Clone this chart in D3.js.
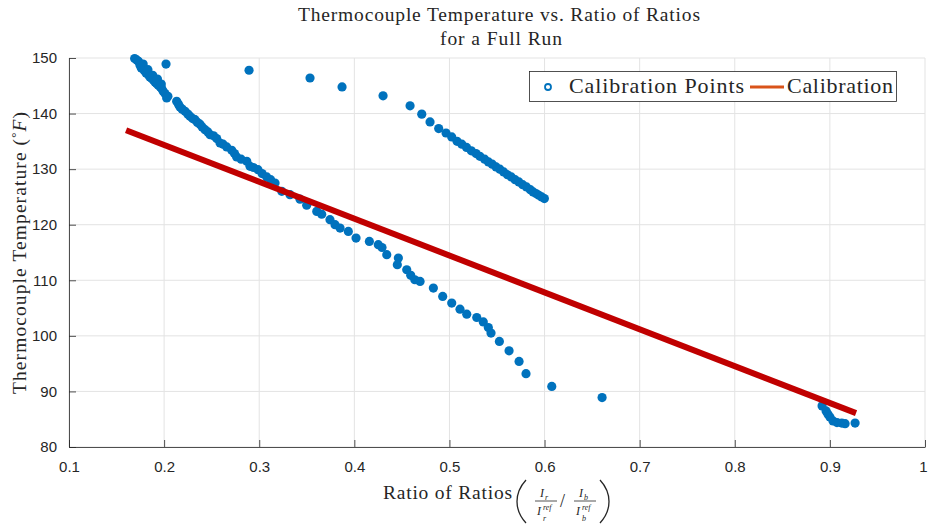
<!DOCTYPE html>
<html><head><meta charset="utf-8">
<script src="https://cdn.jsdelivr.net/npm/d3@7"></script>
<style>body{margin:0;background:#fff}text{font-family:"Liberation Serif","DejaVu Serif",serif;fill:#262626}</style>
</head><body>
<svg id="c" width="928" height="525"></svg>
<script>
const xTicks = [0.1,0.2,0.3,0.4,0.5,0.6,0.7,0.8,0.9,1];
const xTickLabels = ["0.1","0.2","0.3","0.4","0.5","0.6","0.7","0.8","0.9","1"];
const yTicks = [80,90,100,110,120,130,140,150];
const yTickLabels = ["80","90","100","110","120","130","140","150"];

// Calibration points – lower branch
const lowerX = [0.169,0.1715,0.173,0.1747,0.176,0.178,0.1789,0.181,0.1834,0.183,0.185,0.187,0.188,0.189,0.1904,0.192,0.193,0.1939,0.196,0.1975,0.197,0.199,0.2009,0.2027,0.204,
  0.2132,0.215,0.2167,0.219,0.222,0.225,0.2272,0.23,0.2325,0.235,0.2377,0.24,0.243,0.246,0.2483,0.252,0.2553,0.2588,0.262,0.2658,
  0.2711,0.274,0.2763,0.281,0.2869,0.2903,0.294,0.2987,0.303,0.3079,0.312,0.3166,0.3237,0.3324,0.3429,0.3499,0.3605,0.3657,0.3744,0.3797,0.385,
  0.3937,0.4018,0.4158,0.4252,0.4291,0.4341,0.4463,0.4452,0.4551,0.4593,0.4636,0.4691,0.4831,0.4929,0.5024,0.5111,0.5182,0.5287,0.5356,0.5409,
  0.5437,0.5525,0.5627,0.5732,0.5805,0.6076,0.6605];
const lowerY = [149.9,149.6,149.4,148.7,148.2,148.9,147.8,147.3,147.0,147.9,146.6,146.3,146.9,146.0,145.7,145.4,146.2,145.1,144.8,144.5,145.3,144.0,143.6,142.8,143.1,
  142.2,141.7,141.2,140.8,140.4,139.9,139.5,139.1,138.9,138.4,138.1,137.6,137.1,136.7,136.2,136.0,135.5,134.7,134.5,134.0,
  133.4,132.8,132.2,131.8,131.4,130.5,130.3,129.9,129.2,128.6,128.1,127.5,126.0,125.4,124.6,123.5,122.4,121.9,120.9,120.0,119.4,
  118.8,117.6,117.0,116.4,115.9,114.6,114.0,112.8,111.9,110.9,110.1,109.8,108.6,107.1,105.9,104.8,103.9,103.3,102.5,101.5,
  100.5,99.0,97.3,95.4,93.2,90.9,88.9];

// Calibration points – upper branch
const upperX = [0.202,0.2893,0.3534,0.3871,0.4302,0.4586,0.4709,0.4796,0.4887,0.4964,0.5024,0.508,
  0.513,0.518,0.523,0.528,0.532,0.537,0.541,0.545,0.549,0.553,0.557,0.561,0.565,0.569,0.573,0.577,0.581,0.585,0.588,0.591,0.594,0.597,0.5998];
const upperY = [148.9,147.8,146.4,144.8,143.2,141.4,139.9,138.5,137.3,136.5,135.8,135.0,
  134.5,133.9,133.3,132.8,132.3,131.8,131.3,130.9,130.4,130.0,129.5,129.0,128.6,128.1,127.7,127.2,126.8,126.3,125.9,125.6,125.3,125.0,124.7];

// Calibration points – cluster near 0.9
const clusterX = [0.8918,0.896,0.898,0.900,0.9033,0.9075,0.9125,0.916,0.9265];
const clusterY = [87.4,86.5,85.9,85.4,84.7,84.4,84.3,84.2,84.3];

// Calibration fit line
const fitX = [0.16,0.9275];
const fitY = [137.0,86.1];

const svg = d3.select("#c");
const x = d3.scaleLinear().domain([0.1,1]).range([69,925]);
const y = d3.scaleLinear().domain([80,150]).range([447,58]);

// grid
const grid = svg.append("g");
grid.selectAll(".gx").data(xTicks).enter().append("line")
  .attr("x1",d=>x(d)).attr("x2",d=>x(d)).attr("y1",y(80)).attr("y2",y(150))
  .attr("stroke","#e3e3e3").attr("stroke-width",1);
grid.selectAll(".gy").data(yTicks).enter().append("line")
  .attr("x1",x(0.1)).attr("x2",x(1)).attr("y1",d=>y(d)).attr("y2",d=>y(d))
  .attr("stroke","#e3e3e3").attr("stroke-width",1);

// axes
const xAxis = d3.axisBottom(x).tickValues(xTicks).tickFormat((d,i)=>xTickLabels[i]).tickSizeInner(-7).tickSizeOuter(0).tickPadding(14);
const yAxis = d3.axisLeft(y).tickValues(yTicks).tickFormat((d,i)=>yTickLabels[i]).tickSizeInner(-7).tickSizeOuter(0).tickPadding(12);
const gx = svg.append("g").attr("transform",`translate(0,${y(80)})`).call(xAxis);
const gy = svg.append("g").attr("transform",`translate(${x(0.1)},0)`).call(yAxis);
[gx,gy].forEach(g=>{
  g.select(".domain").attr("stroke","#262626").attr("stroke-width",0.8);
  g.selectAll(".tick line").attr("stroke","#262626").attr("stroke-width",0.8);
  g.selectAll(".tick text").style("font-family","'Liberation Sans',Arial,sans-serif").style("font-size","15px").style("fill","#262626");
});
gx.selectAll(".tick text").filter((d,i)=>i===xTicks.length-1).attr("dx","-2");

// points
const pts = lowerX.map((v,i)=>[v,lowerY[i]])
  .concat(upperX.map((v,i)=>[v,upperY[i]]))
  .concat(clusterX.map((v,i)=>[v,clusterY[i]]));
svg.append("g").selectAll("circle").data(pts).enter().append("circle")
  .attr("cx",d=>x(d[0])).attr("cy",d=>y(d[1])).attr("r",4.6).attr("fill","#0072BD");

// fit line
const line = d3.line().x(d=>x(d[0])).y(d=>y(d[1]));
svg.append("path").datum(fitX.map((v,i)=>[v,fitY[i]]))
  .attr("d",line).attr("stroke","#C00000").attr("stroke-width",6).attr("fill","none");

// title
svg.append("text").attr("x",499).attr("y",21).attr("text-anchor","middle").style("font-size","19.5px")
  .attr("textLength",402).attr("lengthAdjust","spacing").text("Thermocouple Temperature vs. Ratio of Ratios");
svg.append("text").attr("x",501).attr("y",45).attr("text-anchor","middle").style("font-size","19.5px")
  .attr("textLength",122).attr("lengthAdjust","spacing").text("for a Full Run");

// y label
const yl = svg.append("text").attr("transform","translate(26,253) rotate(-90)").attr("text-anchor","middle")
  .style("font-size","19.5px").attr("textLength",282).attr("lengthAdjust","spacing");
yl.append("tspan").text("Thermocouple Temperature (");
yl.append("tspan").style("font-size","13px").attr("dy",-6).text("\u00B0");
yl.append("tspan").style("font-style","italic").attr("dy",6).text("F");
yl.append("tspan").text(")");

// x label
const xl = svg.append("g");
xl.append("text").attr("x",383).attr("y",499).style("font-size","19.5px").attr("textLength",129).attr("lengthAdjust","spacing").text("Ratio of Ratios");
xl.append("path").attr("d","M526,480 C514,493 514,510 526,523").attr("stroke","#262626").attr("stroke-width",1.3).attr("fill","none");
xl.append("path").attr("d","M600,480 C612,493 612,510 600,523").attr("stroke","#262626").attr("stroke-width",1.3).attr("fill","none");
function frac(cx, sub){
  xl.append("text").attr("x",cx-6).attr("y",497).style("font-size","12px").style("font-style","italic").text("I");
  xl.append("text").attr("x",cx-1).attr("y",500).style("font-size","8px").style("font-style","italic").text(sub);
  xl.append("line").attr("x1",cx-11).attr("x2",cx+11).attr("y1",501).attr("y2",501).attr("stroke","#262626").attr("stroke-width",0.8);
  xl.append("text").attr("x",cx-9).attr("y",515).style("font-size","12px").style("font-style","italic").text("I");
  xl.append("text").attr("x",cx-3).attr("y",510).style("font-size","8px").style("font-style","italic").text("ref");
  xl.append("text").attr("x",cx-3).attr("y",521).style("font-size","8px").style("font-style","italic").text(sub);
}
frac(546,"r");
xl.append("text").attr("x",560).attr("y",507).style("font-size","18px").text("/");
frac(585,"b");

// legend
const lg = svg.append("g");
lg.append("rect").attr("x",529.5).attr("y",71.5).attr("width",367).attr("height",30)
  .attr("fill","#fff").attr("stroke","#262626").attr("stroke-width",0.8);
lg.append("circle").attr("cx",548).attr("cy",87).attr("r",3).attr("fill","none").attr("stroke","#0072BD").attr("stroke-width",1.8);
lg.append("text").attr("x",569).attr("y",93).style("font-size","22px").attr("textLength",175).attr("lengthAdjust","spacing").text("Calibration Points");
lg.append("line").attr("x1",750).attr("x2",784).attr("y1",87).attr("y2",87).attr("stroke","#D95319").attr("stroke-width",3);
lg.append("text").attr("x",787).attr("y",93).style("font-size","22px").attr("textLength",106).attr("lengthAdjust","spacing").text("Calibration");
</script>
</body></html>
